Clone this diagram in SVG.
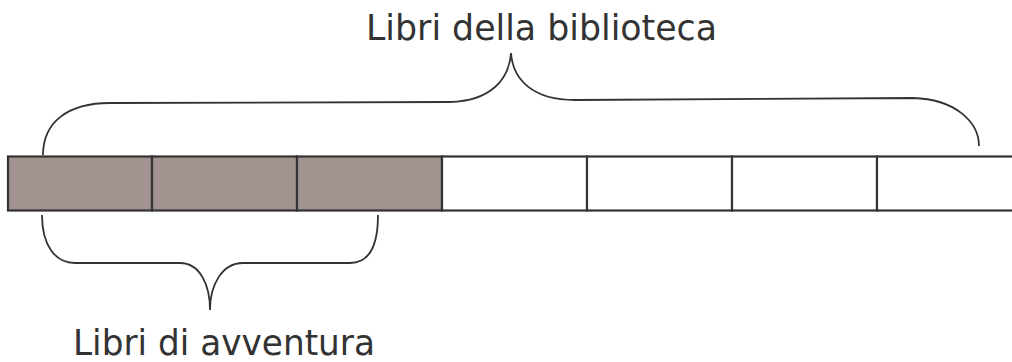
<svg xmlns="http://www.w3.org/2000/svg" width="1012" height="362" viewBox="0 0 1012 362">
<style>
.cell{stroke:#333;stroke-width:2.2}
.sh{fill:#a19490}
.wh{fill:#fff}
.brace{fill:none;stroke:#333;stroke-width:1.8}
.lbl{font-family:"DejaVu Sans",sans-serif;font-size:35px;fill:#333}
</style>
<rect width="1012" height="362" fill="#fff"/>
<g id="bar">
<rect id="c1" class="cell sh" x="8" y="156.5" width="144" height="54"/>
<rect id="c2" class="cell sh" x="152" y="156.5" width="145" height="54"/>
<rect id="c3" class="cell sh" x="297" y="156.5" width="145" height="54"/>
<rect id="c4" class="cell wh" x="442" y="156.5" width="145" height="54"/>
<rect id="c5" class="cell wh" x="587" y="156.5" width="145" height="54"/>
<rect id="c6" class="cell wh" x="732" y="156.5" width="145" height="54"/>
<rect id="c7" class="cell wh" x="877" y="156.5" width="150" height="54"/>
</g>
<g id="connectors">
<path class="brace" d="M43,155 C43,122 68,103 110,103 L450,102 C490,101 509,80 511,53 C513,80 533,100 575,100 L913,98 C955,99 979,122 979,146"/>
<path class="brace" d="M42,215 C42,245 55,263 75,263 L180,263 C200,263 210,285 210,310 C210,285 222,263 243,263 L350,263 C370,263 378,245 378,215"/>
</g>
<g id="label-top">
<text class="lbl" x="366" y="40" textLength="351" lengthAdjust="spacingAndGlyphs">Libri della biblioteca</text>
</g>
<g id="label-bottom">
<text class="lbl" x="73" y="355" textLength="302" lengthAdjust="spacingAndGlyphs">Libri di avventura</text>
</g>
</svg>
